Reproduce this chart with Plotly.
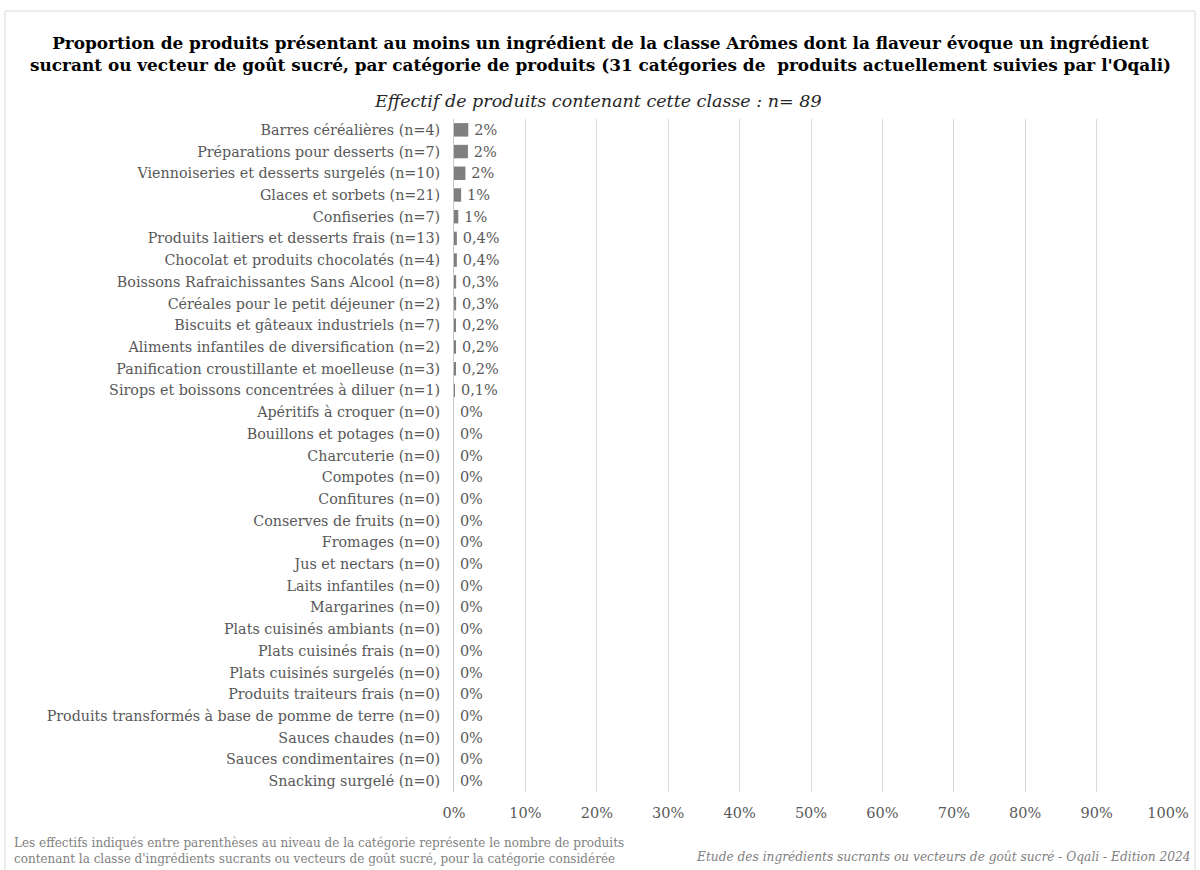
import plotly.graph_objects as go

# Catégories suivies et part des produits concernés (en %)
categories = [
    "Barres céréalières (n=4)",
    "Préparations pour desserts (n=7)",
    "Viennoiseries et desserts surgelés (n=10)",
    "Glaces et sorbets (n=21)",
    "Confiseries (n=7)",
    "Produits laitiers et desserts frais (n=13)",
    "Chocolat et produits chocolatés (n=4)",
    "Boissons Rafraichissantes Sans Alcool (n=8)",
    "Céréales pour le petit déjeuner (n=2)",
    "Biscuits et gâteaux industriels (n=7)",
    "Aliments infantiles de diversification (n=2)",
    "Panification croustillante et moelleuse (n=3)",
    "Sirops et boissons concentrées à diluer (n=1)",
    "Apéritifs à croquer (n=0)",
    "Bouillons et potages (n=0)",
    "Charcuterie (n=0)",
    "Compotes (n=0)",
    "Confitures (n=0)",
    "Conserves de fruits (n=0)",
    "Fromages (n=0)",
    "Jus et nectars (n=0)",
    "Laits infantiles (n=0)",
    "Margarines (n=0)",
    "Plats cuisinés ambiants (n=0)",
    "Plats cuisinés frais (n=0)",
    "Plats cuisinés surgelés (n=0)",
    "Produits traiteurs frais (n=0)",
    "Produits transformés à base de pomme de terre (n=0)",
    "Sauces chaudes (n=0)",
    "Sauces condimentaires (n=0)",
    "Snacking surgelé (n=0)",
]
proportions = [2.0, 1.95, 1.6, 1.0, 0.6, 0.4, 0.4, 0.3, 0.3, 0.2, 0.2, 0.2, 0.1,
               0, 0, 0, 0, 0, 0, 0, 0, 0, 0, 0, 0, 0, 0, 0, 0, 0, 0]
x_ticks = [0, 10, 20, 30, 40, 50, 60, 70, 80, 90, 100]


def fmt_pct(v):
    # entiers au-delà de 0,5 %, une décimale (virgule) en dessous
    if v == 0:
        return "0%"
    if v >= 0.5:
        return f"{round(v):d}%"
    return f"{v:.1f}%".replace(".", ",")


# espace fine pour décoller l'étiquette de l'extrémité de la barre
labels = ["\u2009" + fmt_pct(v) for v in proportions]

W, H = 1200, 870
L, R, T, B = 454, 1168, 119, 792


def px(x):
    return (x - L) / (R - L)


def py(y):
    return (B - y) / (B - T)


SERIF = "DejaVu Serif"
GRAY = "#595959"

fig = go.Figure(
    go.Bar(
        x=proportions,
        y=categories,
        orientation="h",
        marker=dict(color="#7f7f7f", line=dict(width=0)),
        text=labels,
        textposition="outside",
        constraintext="none",
        textfont=dict(family=SERIF, size=14.5, color=GRAY),
        cliponaxis=False,
    )
)

fig.update_layout(
    width=W,
    height=H,
    margin=dict(l=L, r=W - R, t=T, b=H - B),
    paper_bgcolor="white",
    plot_bgcolor="white",
    showlegend=False,
    bargap=0.38,
    font=dict(family=SERIF, color=GRAY),
    xaxis=dict(
        range=[0, 100],
        tickvals=x_ticks,
        ticktext=[f"{t}%" for t in x_ticks],
        tickfont=dict(family=SERIF, size=14.5, color=GRAY),
        showgrid=True,
        gridcolor="#d9d9d9",
        gridwidth=1,
        zeroline=False,
        showline=False,
        ticks="",
        ticklabelstandoff=10,
    ),
    yaxis=dict(
        autorange="reversed",
        tickfont=dict(family=SERIF, size=14.3, color=GRAY),
        showgrid=False,
        showline=True,
        linecolor="#c8c8c8",
        linewidth=1,
        ticks="",
        ticklabelstandoff=10,
    ),
    shapes=[
        dict(type="rect", xref="paper", yref="paper",
             x0=px(5), x1=px(1195), y0=py(880), y1=py(11),
             line=dict(color="#d9d9d9", width=1), fillcolor="rgba(0,0,0,0)",
             layer="below"),
    ],
    annotations=[
        dict(
            text="Proportion de produits présentant au moins un ingrédient de la classe Arômes dont la flaveur évoque un ingrédient<br>"
                 "sucrant ou vecteur de goût sucré, par catégorie de produits (31 catégories de  produits actuellement suivies par l'Oqali)",
            xref="paper", yref="paper", x=px(600), y=py(54),
            xanchor="center", yanchor="middle", showarrow=False,
            font=dict(family=SERIF, size=16.9, color="black", weight="bold"),
            align="center",
        ),
        dict(
            text="<i>Effectif de produits contenant cette classe : n= 89</i>",
            xref="paper", yref="paper", x=px(598), y=py(101),
            xanchor="center", yanchor="middle", showarrow=False,
            font=dict(family=SERIF, size=17.5, color="#262626"),
        ),
        dict(
            text="Les effectifs indiqués entre parenthèses au niveau de la catégorie représente le nombre de produits<br>"
                 "contenant la classe d'ingrédients sucrants ou vecteurs de goût sucré, pour la catégorie considérée",
            xref="paper", yref="paper", x=px(12), y=py(834),
            xanchor="left", yanchor="top", showarrow=False, align="left",
            font=dict(family=SERIF, size=12, color="#7f7f7f"),
        ),
        dict(
            text="<i>Etude des ingrédients sucrants ou vecteurs de goût sucré - Oqali - Edition 2024</i>",
            xref="paper", yref="paper", x=px(1193), y=py(857),
            xanchor="right", yanchor="middle", showarrow=False,
            font=dict(family=SERIF, size=12.2, color="#7f7f7f"),
        ),
    ],
)

fig.write_html("out.html")
